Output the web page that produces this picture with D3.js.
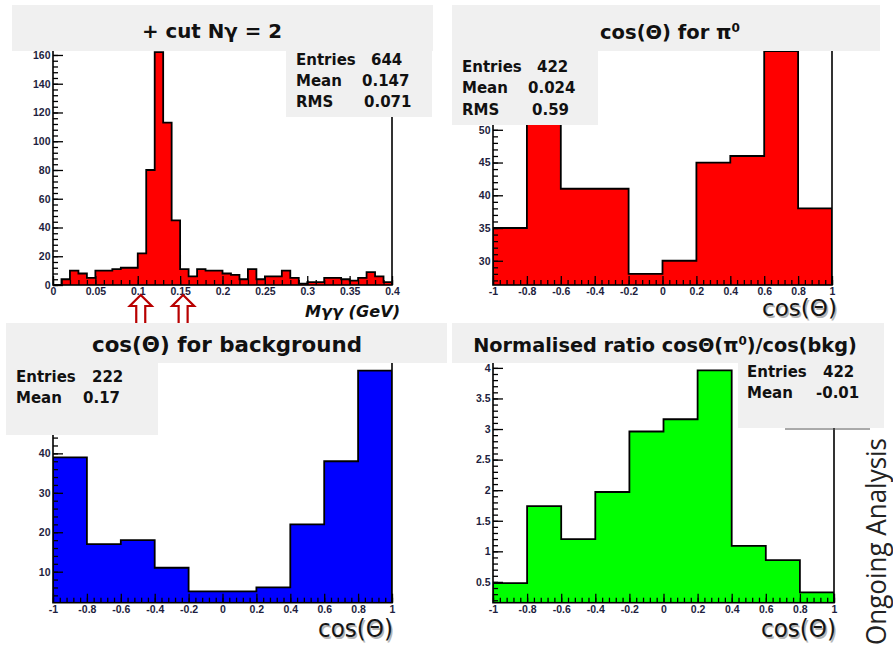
<!DOCTYPE html>
<html>
<head>
<meta charset="utf-8">
<script src="https://cdn.jsdelivr.net/npm/d3@7"></script>
<style>
  html, body { margin: 0; padding: 0; background: #fff; }
  svg { display: block; }
</style>
</head>
<body>
<svg id="chart" width="893" height="649"></svg>
<script>
// ---- data -------------------------------------------------------------
// Diphoton invariant mass, 40 bins of 0.01 GeV between 0 and 0.4 GeV
const massCounts = [0, 4, 10, 8, 5, 10, 10, 11, 12, 12,
                    22, 80, 162, 113, 45, 11, 6, 11, 10, 10,
                    8, 7, 4, 11, 4, 6, 6, 10, 5, 1,
                    2, 2, 5, 5, 4, 3, 5, 9, 6, 2];
const massEdges = d3.range(41).map(i => i / 100);
const massTicks = [0, 0.05, 0.1, 0.15, 0.2, 0.25, 0.3, 0.35, 0.4];
const massTickLabels = ["0", "0.05", "0.1", "0.15", "0.2", "0.25", "0.3", "0.35", "0.4"];
const massCountTicks = [0, 20, 40, 60, 80, 100, 120, 140, 160];
const massCuts = [0.1, 0.15];

// cos(theta) distributions, 10 bins between -1 and 1
const cosEdges = [-1, -0.8, -0.6, -0.4, -0.2, 0, 0.2, 0.4, 0.6, 0.8, 1];
const cosTickLabels = ["-1", "-0.8", "-0.6", "-0.4", "-0.2", "0", "0.2", "0.4", "0.6", "0.8", "1"];

const pi0Counts = [35, 56, 41, 41, 28, 30, 45, 46, 62, 38];
const pi0Ticks = [30, 35, 40, 45, 50];

const bkgCounts = [39, 17, 18, 11, 5, 5, 6, 22, 38, 61];
const bkgTicks = [10, 20, 30, 40];

const ratioValues = [0.48, 1.74, 1.2, 1.97, 2.96, 3.16, 3.96, 1.09, 0.855, 0.33];
const ratioTicks = [0.5, 1, 1.5, 2, 2.5, 3, 3.5, 4];
const ratioTickLabels = ["0.5", "1", "1.5", "2", "2.5", "3", "3.5", "4"];

// ---- layout -----------------------------------------------------------
const panels = [
  { id: "mass", edges: massEdges, values: massCounts, fill: "#ff0000",
    xDomain: [0, 0.4], yDomain: [0, 170],
    left: 53, right: 392, top: 40.6, bottom: 285,
    xTicks: massTicks, xLabels: massTickLabels, xMinor: 0.01,
    yTicks: massCountTicks, yLabels: massCountTicks.map(String), yMinor: 4 },
  { id: "pi0", edges: cosEdges, values: pi0Counts, fill: "#ff0000",
    xDomain: [-1, 1], yDomain: [26.3, 65.1],
    left: 493, right: 832, top: 30.9, bottom: 285,
    xTicks: cosEdges, xLabels: cosTickLabels, xMinor: 0.04,
    yTicks: pi0Ticks, yLabels: pi0Ticks.map(String), yMinor: 1 },
  { id: "bkg", edges: cosEdges, values: bkgCounts, fill: "#0000ff",
    xDomain: [-1, 1], yDomain: [2.14, 64.05],
    left: 53, right: 392, top: 358.5, bottom: 602.7,
    xTicks: cosEdges, xLabels: cosTickLabels, xMinor: 0.04,
    yTicks: bkgTicks, yLabels: bkgTicks.map(String), yMinor: 2 },
  { id: "ratio", edges: cosEdges, values: ratioValues, fill: "#00ff00",
    xDomain: [-1, 1], yDomain: [0.16, 4.16],
    left: 493, right: 834, top: 358.1, bottom: 602.7,
    xTicks: cosEdges, xLabels: cosTickLabels, xMinor: 0.04,
    yTicks: ratioTicks, yLabels: ratioTickLabels, yMinor: 0.1 }
];

const svg = d3.select("#chart");
const defs = svg.append("defs");
const labelFont = "'Liberation Sans', Arial, sans-serif";
const boxFont = "'DejaVu Sans', Verdana, sans-serif";
const boxGrey = "#f0f0f0";

function minorValues(domain, step) {
  const lo = Math.ceil(domain[0] / step - 1e-9);
  const hi = Math.floor(domain[1] / step + 1e-9);
  return d3.range(lo, hi + 1).map(k => +(k * step).toFixed(6));
}

function styleAxis(g, size) {
  g.select(".domain").remove();
  g.selectAll(".tick line").attr("stroke", "#000").attr("stroke-width", 1.3);
  g.selectAll(".tick text")
    .attr("font-family", labelFont)
    .attr("font-weight", "bold")
    .attr("font-size", size)
    .attr("fill", "#1e1e40");
}

panels.forEach(p => {
  const x = d3.scaleLinear().domain(p.xDomain).range([p.left, p.right]);
  const y = d3.scaleLinear().domain(p.yDomain).range([p.bottom, p.top]).clamp(true);

  defs.append("clipPath").attr("id", "clip-" + p.id)
    .append("rect")
    .attr("x", p.left).attr("y", p.top)
    .attr("width", p.right - p.left).attr("height", p.bottom - p.top);

  // step outline of the histogram
  const pts = [[p.edges[0], p.yDomain[0]]];
  p.values.forEach((v, i) => {
    pts.push([p.edges[i], v]);
    pts.push([p.edges[i + 1], v]);
  });
  pts.push([p.edges[p.edges.length - 1], p.yDomain[0]]);

  const line = d3.line().x(d => x(d[0])).y(d => y(d[1]));
  const g = svg.append("g").attr("clip-path", `url(#clip-${p.id})`);
  g.append("path").attr("d", line(pts) + "Z").attr("fill", p.fill).attr("stroke", "none");
  g.append("path").attr("d", line(pts)).attr("fill", "none")
    .attr("stroke", "#000").attr("stroke-width", 1.8).attr("stroke-linejoin", "miter");

  // frame
  svg.append("rect")
    .attr("x", p.left).attr("y", p.top)
    .attr("width", p.right - p.left).attr("height", p.bottom - p.top)
    .attr("fill", "none").attr("stroke", "#000").attr("stroke-width", 1.6);

  // x axis: major ticks with labels, minor ticks inside the frame
  const gxMinor = svg.append("g").attr("transform", `translate(0,${p.bottom})`)
    .call(d3.axisBottom(x).tickValues(minorValues(p.xDomain, p.xMinor)).tickSize(-5).tickFormat(""));
  styleAxis(gxMinor, 11);
  const gx = svg.append("g").attr("transform", `translate(0,${p.bottom})`)
    .call(d3.axisBottom(x).tickValues(p.xTicks)
      .tickFormat((d, i) => p.xLabels[i]).tickSize(-9).tickPadding(3));
  styleAxis(gx, 10.5);

  // y axis
  const gyMinor = svg.append("g").attr("transform", `translate(${p.left},0)`)
    .call(d3.axisLeft(y).tickValues(minorValues(p.yDomain, p.yMinor)).tickSize(-5).tickFormat(""));
  styleAxis(gyMinor, 10.5);
  const gy = svg.append("g").attr("transform", `translate(${p.left},0)`)
    .call(d3.axisLeft(y).tickValues(p.yTicks)
      .tickFormat((d, i) => p.yLabels[i]).tickSize(-10).tickPadding(2.5));
  styleAxis(gy, 10.5);

  p.x = x;
  p.y = y;
});

// selection window arrows under the mass spectrum
const massX = panels[0].x;
svg.append("g").selectAll("path")
  .data(massCuts)
  .join("path")
  .attr("d", d => {
    const cx = massX(d) + 3;
    return `M${cx},295 L${cx + 11},306 L${cx + 4.5},306 L${cx + 4.5},330 ` +
           `L${cx - 4.5},330 L${cx - 4.5},306 L${cx - 11},306 Z`;
  })
  .attr("fill", "#fff")
  .attr("stroke", "#b80000")
  .attr("stroke-width", 2.2)
  .attr("stroke-linejoin", "miter");

// ---- title boxes ------------------------------------------------------
const titleBoxes = [
  { x: 12, y: 5, w: 421, h: 46 },
  { x: 452, y: 5, w: 428, h: 46 },
  { x: 6, y: 323, w: 441, h: 40 },
  { x: 452, y: 323, w: 432, h: 40 }
];
svg.append("g").selectAll("rect")
  .data(titleBoxes).join("rect")
  .attr("x", d => d.x).attr("y", d => d.y)
  .attr("width", d => d.w).attr("height", d => d.h)
  .attr("fill", boxGrey);

function title(cx, y, size, parts, len) {
  const t = svg.append("text")
    .attr("x", cx).attr("y", y)
    .attr("text-anchor", "middle")
    .attr("font-family", boxFont)
    .attr("font-weight", "bold")
    .attr("font-size", size)
    .attr("fill", "#111");
  if (len) t.attr("textLength", len).attr("lengthAdjust", "spacingAndGlyphs");
  parts.forEach(pt => {
    const s = t.append("tspan").text(pt.text);
    if (pt.sup) s.attr("baseline-shift", "super").attr("font-size", size * 0.62);
  });
  return t;
}

title(212, 38, 20, [{ text: "+ cut Nγ = 2" }], 140);
title(670, 39, 19.5, [{ text: "cos(Θ) for π" }, { text: "0", sup: true }]);
title(227, 352, 21.5, [{ text: "cos(Θ) for background" }], 270);
title(665, 352, 19.3, [{ text: "Normalised ratio cosΘ(π" }, { text: "0", sup: true },
                       { text: ")/cos(bkg)" }]);

// ---- statistics boxes -------------------------------------------------
const statBoxes = [
  { x: 286, y: 51, w: 146, h: 66,
    rows: [["Entries", "644", 296, 371, 65], ["Mean", "0.147", 296, 362, 86], ["RMS", "0.071", 296, 364, 107]] },
  { x: 452, y: 51, w: 146, h: 74,
    rows: [["Entries", "422", 462, 537, 72], ["Mean", "0.024", 462, 528, 93], ["RMS", "0.59", 462, 532, 115]] },
  { x: 6, y: 363, w: 152, h: 72,
    rows: [["Entries", "222", 16, 92, 382], ["Mean", "0.17", 16, 83, 403]] },
  { x: 738, y: 363, w: 146, h: 65,
    rows: [["Entries", "422", 747, 823, 377], ["Mean", "-0.01", 747, 816, 398]] }
];

// trace of the original stat box edge below the ratio box
svg.append("line")
  .attr("x1", 785).attr("x2", 870).attr("y1", 429).attr("y2", 429)
  .attr("stroke", "#555").attr("stroke-width", 1);

statBoxes.forEach(b => {
  svg.append("rect").attr("x", b.x).attr("y", b.y)
    .attr("width", b.w).attr("height", b.h).attr("fill", boxGrey);
  b.rows.forEach(r => {
    [[r[0], r[2]], [r[1], r[3]]].forEach(([txt, tx]) => {
      svg.append("text")
        .attr("x", tx).attr("y", r[4])
        .attr("font-family", boxFont)
        .attr("font-weight", "bold")
        .attr("font-size", 15)
        .attr("fill", "#111")
        .text(txt);
    });
  });
});

// ---- axis titles ------------------------------------------------------
svg.append("text")
  .attr("x", 305).attr("y", 317)
  .attr("font-family", boxFont).attr("font-weight", "bold").attr("font-style", "italic")
  .attr("font-size", 16.5).attr("fill", "#111")
  .attr("textLength", 95).attr("lengthAdjust", "spacingAndGlyphs")
  .text("Mγγ (GeV)");

const cosTitles = [[762, 316, 22.5], [318, 637, 24], [761, 637, 24]];
cosTitles.forEach(([tx, ty, fs]) => {
  [["#b5b5b5", 1.5], ["#151515", 0]].forEach(([col, off]) => {
    svg.append("text")
      .attr("x", tx + off).attr("y", ty + off)
      .attr("font-family", boxFont).attr("font-size", fs)
      .attr("fill", col)
      .attr("textLength", 75).attr("lengthAdjust", "spacingAndGlyphs")
      .text("cos(Θ)");
  });
});

// side note
svg.append("text")
  .attr("transform", "translate(886,645) rotate(-90)")
  .attr("font-family", "'Open Sans', 'Noto Sans', sans-serif")
  .attr("font-size", 27)
  .attr("fill", "#222")
  .attr("textLength", 207).attr("lengthAdjust", "spacingAndGlyphs")
  .text("Ongoing Analysis");
</script>
</body>
</html>
